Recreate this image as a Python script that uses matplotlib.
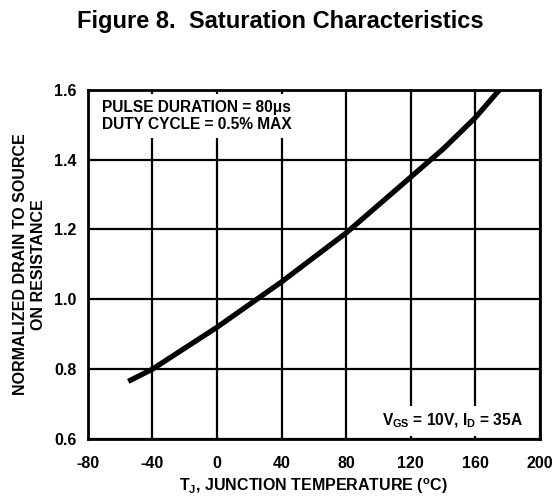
import matplotlib
matplotlib.use("Agg")
import matplotlib.pyplot as plt

# curve
temp_c = [-55, -40, -20, 0, 20, 40, 60, 80, 100, 120, 140, 160, 175]
r_norm = [0.765, 0.80, 0.86, 0.92, 0.985, 1.05, 1.12, 1.19, 1.27, 1.35, 1.43, 1.52, 1.60]

x_ticks = [-80, -40, 0, 40, 80, 120, 160, 200]
y_ticks = [0.6, 0.8, 1.0, 1.2, 1.4, 1.6]

plt.rcParams['font.family'] = ['Liberation Sans', 'DejaVu Sans']
plt.rcParams['font.weight'] = 'bold'
plt.rcParams['mathtext.fontset'] = 'custom'
plt.rcParams['mathtext.rm'] = 'Liberation Sans:bold'
plt.rcParams['mathtext.it'] = 'Liberation Sans:bold'
plt.rcParams['mathtext.bf'] = 'Liberation Sans:bold'
plt.rcParams['mathtext.default'] = 'rm'

fig = plt.figure(figsize=(5.6, 4.96), dpi=100)
ax = fig.add_axes([0.157, 0.115, 0.807, 0.704])

ax.set_xlim(-80, 200)
ax.set_ylim(0.6, 1.6)
ax.set_xticks(x_ticks)
ax.set_yticks(y_ticks)
ax.set_xticklabels([str(t) for t in x_ticks])
ax.set_yticklabels(["%.1f" % t for t in y_ticks])
ax.tick_params(length=0, labelsize=11.5)
ax.tick_params(axis='x', pad=12)
ax.tick_params(axis='y', pad=8)
for lab in ax.get_xticklabels() + ax.get_yticklabels():
    lab.set_fontweight('bold')

ax.grid(True, color='black', linewidth=1.6)
for s in ax.spines.values():
    s.set_linewidth(2)

ax.plot(temp_c, r_norm, color='black', linewidth=3.8, solid_capstyle='butt', zorder=3)

ax.text(-71, 1.572, "PULSE DURATION = 80\u03bcs\nDUTY CYCLE = 0.5% MAX",
        fontsize=11.2, fontweight='bold', va='top', ha='left', linespacing=1.2,
        bbox=dict(facecolor='white', edgecolor='none', pad=4), zorder=4)
ax.text(189.5, 0.638, "V$_{GS}$ = 10V, I$_{D}$ = 35A",
        fontsize=11.2, fontweight='bold', va='baseline', ha='right',
        bbox=dict(facecolor='white', edgecolor='none', pad=4), zorder=4)

ax.set_xlabel("T$_{J}$, JUNCTION TEMPERATURE ($^{o}$C)", fontsize=11.5, fontweight='bold', labelpad=4)
ax.set_ylabel("NORMALIZED DRAIN TO SOURCE\nON RESISTANCE", fontsize=11.5, fontweight='bold',
              labelpad=6, linespacing=1.25)

fig.text(0.5, 0.943, "Figure 8.  Saturation Characteristics", ha='center', va='baseline',
         fontsize=17, fontweight='bold')

fig.savefig("out.png", dpi=100)
